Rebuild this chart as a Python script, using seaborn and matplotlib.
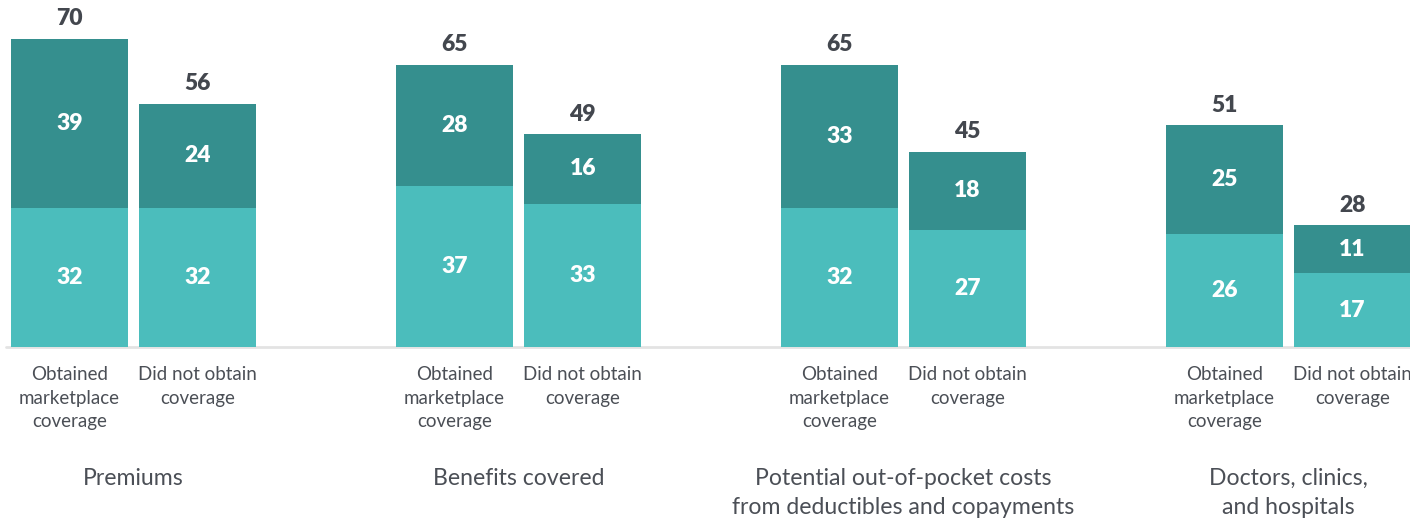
import matplotlib
matplotlib.use("Agg")
import matplotlib.pyplot as plt
import seaborn as sns
import pandas as pd

# Survey data: share of respondents who considered each factor very important
groups = ["Premiums", "Benefits covered",
          "Potential out-of-pocket costs\nfrom deductibles and copayments",
          "Doctors, clinics,\nand hospitals"]
bar_labels = ["Obtained\nmarketplace\ncoverage", "Did not obtain\ncoverage"]

# lower (light) segment, upper (dark) segment and stated totals,
# ordered group by group: obtained, did not obtain
lower_vals = [32, 32, 37, 33, 32, 27, 26, 17]
upper_vals = [39, 24, 28, 16, 33, 18, 25, 11]
totals = [70, 56, 65, 49, 65, 45, 51, 28]

DARK = "#358f8e"
LIGHT = "#4bbdbc"
TEXT = "#4b4f56"
TOTAL_TEXT = "#43474e"

sns.set_theme(style="white")
plt.rcParams["font.family"] = ["Lato", "DejaVu Sans"]

W, H, DPI = 1410, 518, 100
fig = plt.figure(figsize=(W / DPI, H / DPI), dpi=DPI)
base_px = 347  # baseline distance from the top of the figure, in pixels
ax = fig.add_axes([0, (H - base_px) / H, 1, base_px / H])

positions = []
for g in range(len(groups)):
    for j in range(len(bar_labels)):
        positions.append(g * 3 + j)

df = pd.DataFrame({
    "pos": positions,
    "lower": lower_vals,
    "upper": upper_vals,
    "stack": [a + b for a, b in zip(lower_vals, upper_vals)],
    "total": totals,
})

# full stack in dark teal, then the lower part in light teal over it
sns.barplot(data=df, x="pos", y="stack", native_scale=True, color=DARK,
            saturation=1, width=0.914, linewidth=0, ax=ax, errorbar=None)
sns.barplot(data=df, x="pos", y="lower", native_scale=True, color=LIGHT,
            saturation=1, width=0.914, linewidth=0, ax=ax, errorbar=None)

px_per_unit = 4.344
ax.set_ylim(0, base_px / px_per_unit)
scale = 128.3
ax.set_xlim(-69.5 / scale, (W - 69.5) / scale)
ax.set_axis_off()

ax.axhline(0, xmin=6 / W, xmax=1, color="#e3e3e3", lw=2, clip_on=False, zorder=0)

VAL_KW = dict(ha="center", va="center", fontsize=16.5, fontweight="heavy")
for _, r in df.iterrows():
    ax.text(r["pos"], r["lower"] / 2, f"{int(r['lower'])}", color="white", **VAL_KW)
    ax.text(r["pos"], r["lower"] + r["upper"] / 2, f"{int(r['upper'])}",
            color="white", **VAL_KW)
    ax.annotate(f"{int(r['total'])}", (r["pos"], r["stack"]), xytext=(0, 20),
                textcoords="offset pixels", color=TOTAL_TEXT, **VAL_KW)

trans = ax.get_xaxis_transform()


def frac(px):
    # vertical pixel position from figure top -> axes fraction
    return (base_px - px) / base_px


for pos, j in zip(positions, [0, 1] * len(groups)):
    ax.text(pos, frac(366), bar_labels[j], transform=trans, ha="center", va="top",
            color=TEXT, fontsize=13.5, linespacing=1.47)

for g, name in enumerate(groups):
    ax.text(g * 3 + 0.5, frac(468), name, transform=trans, ha="center", va="top",
            color=TEXT, fontsize=16.6, linespacing=1.5)

fig.savefig("out.png", dpi=DPI)
